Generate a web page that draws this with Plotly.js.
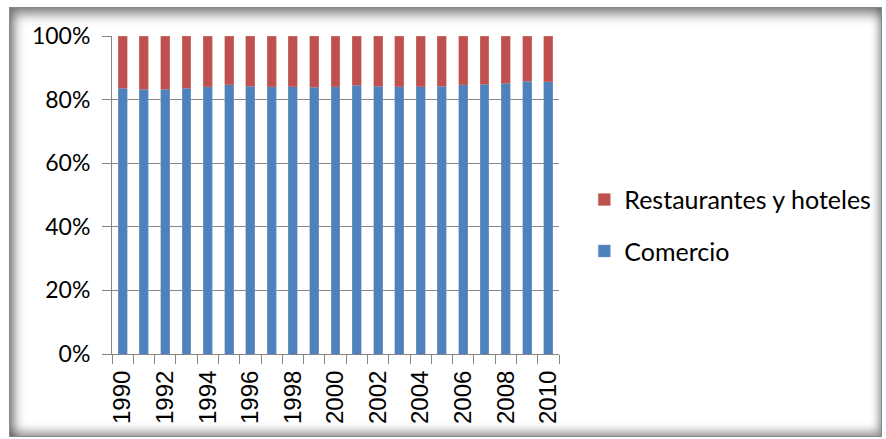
<!DOCTYPE html>
<html>
<head>
<meta charset="utf-8">
<script src="https://cdn.plot.ly/plotly-3.0.1.min.js"></script>
<style>
  html, body { margin: 0; padding: 0; background: #ffffff; }
  #wrap { position: relative; width: 886px; height: 439px; overflow: hidden; background: #ffffff; }
  #frame { position: absolute; left: 9px; top: 7px; width: 873px; height: 430px;
           border: 1px solid #8a8a8a; box-sizing: border-box;
           box-shadow: inset 4px 6px 12px rgba(0,0,0,0.5), inset -2px -5px 10px rgba(0,0,0,0.35); }
  #chart { position: absolute; left: 0; top: 0; width: 886px; height: 439px; }
</style>
</head>
<body>
<div id="wrap">
  <div id="frame"></div>
  <div id="chart"></div>
</div>
<script>
const years = [1990,1991,1992,1993,1994,1995,1996,1997,1998,1999,2000,2001,2002,2003,2004,2005,2006,2007,2008,2009,2010];
const comercio = [83.6,83.2,83.2,83.6,84.0,84.6,84.2,84.0,84.0,83.9,84.0,84.5,84.2,84.0,84.0,84.2,84.6,84.8,85.2,85.8,85.6];
const restaurantes = [16.4,16.8,16.8,16.4,16.0,15.4,15.8,16.0,16.0,16.1,16.0,15.5,15.8,16.0,16.0,15.8,15.4,15.2,14.8,14.2,14.4];
const yTicks = [0,20,40,60,80,100];

const cats = years.map(String);
const xLabels = years.map((y, i) => (i % 2 === 0 ? String(y) : ''));

const data = [
  { type: 'bar', name: 'Comercio', legendgroup: 'c', legendrank: 2, x: cats, y: comercio,
    marker: { color: '#4F81BD', line: { color: '#7FA3CF', width: 0.5 } } },
  { type: 'bar', name: 'Restaurantes y hoteles', legendgroup: 'r', legendrank: 1, x: cats, y: restaurantes,
    marker: { color: '#C0504D', line: { color: '#D07F7D', width: 0.5 } } }
];

const layout = {
  width: 886, height: 439,
  margin: { l: 112, r: 327, t: 36, b: 85, autoexpand: false },
  paper_bgcolor: 'rgba(0,0,0,0)',
  plot_bgcolor: 'rgba(0,0,0,0)',
  barmode: 'stack',
  bargap: 0.58,
  showlegend: true,
  legend: {
    xref: 'container', x: 0.6595, y: 0.405, xanchor: 'left', yanchor: 'middle',
    traceorder: 'grouped',
    font: { family: 'Lato, "Open Sans", sans-serif', size: 25, color: '#000' },
    tracegroupgap: 16,
    bgcolor: 'rgba(0,0,0,0)'
  },
  xaxis: {
    type: 'category',
    tickmode: 'array', tickvals: cats, ticktext: xLabels,
    tickson: 'boundaries',
    ticks: 'outside', ticklen: 9, tickcolor: '#868686', tickwidth: 1,
    tickangle: -90,
    ticklabelstandoff: 6,
    tickfont: { family: '"Liberation Sans", Arial, sans-serif', size: 24, color: '#000' },
    showgrid: false,
    showline: true, linecolor: '#868686', linewidth: 1,
    zeroline: false,
    fixedrange: true
  },
  yaxis: {
    range: [0, 100],
    tickmode: 'array', tickvals: yTicks, ticktext: yTicks.map(v => v + '%'),
    ticks: 'outside', ticklen: 9, tickcolor: '#868686', tickwidth: 1,
    ticklabelstandoff: 7,
    tickfont: { family: 'Lato, "Open Sans", sans-serif', size: 23, color: '#000' },
    showgrid: true, gridcolor: '#868686', gridwidth: 1,
    showline: true, linecolor: '#868686', linewidth: 1,
    zeroline: false,
    fixedrange: true
  }
};

Plotly.newPlot('chart', data, layout, { displayModeBar: false, staticPlot: true });
</script>
</body>
</html>
